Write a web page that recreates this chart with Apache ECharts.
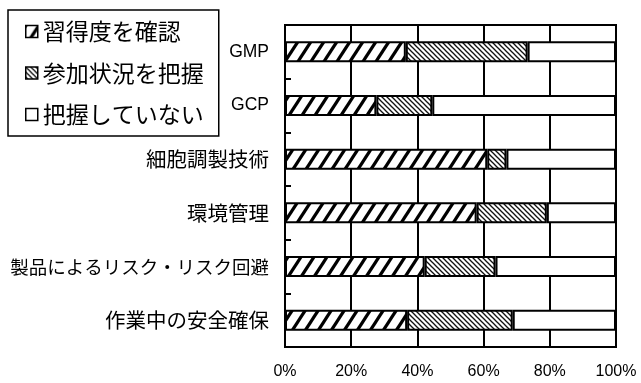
<!DOCTYPE html>
<html>
<head>
<meta charset="utf-8">
<script src="https://cdn.jsdelivr.net/npm/echarts@6/dist/echarts.min.js"></script>
<style>
html,body{margin:0;padding:0;background:#fff;}
#chart{width:641px;height:383px;}
</style>
</head>
<body>
<div id="chart"></div>
<script>
const categories = ['GMP', 'GCP', '細胞調製技術', '環境管理', '製品によるリスク・リスク回避', '作業中の安全確保'];
const seriesNames = ['習得度を確認', '参加状況を把握', '把握していない'];
const confirmed = [36.5, 27.6, 61.1, 57.9, 42.2, 36.9];
const participation = [36.8, 16.9, 5.8, 21.2, 21.4, 31.9];
const notGrasped = [26.7, 55.5, 33.1, 20.9, 36.4, 31.2];
const xTicks = [0, 20, 40, 60, 80, 100];

function makePattern(w, h, dir, lw, color) {
  const c = document.createElement('canvas');
  c.width = w; c.height = h;
  const ctx = c.getContext('2d');
  ctx.fillStyle = '#fff';
  ctx.fillRect(0, 0, w, h);
  ctx.strokeStyle = color;
  ctx.lineWidth = lw;
  ctx.lineCap = 'butt';
  for (let k = -2; k <= 2; k++) {
    ctx.beginPath();
    if (dir === '/') {
      ctx.moveTo(k * w - w, 2 * h);
      ctx.lineTo(k * w + 2 * w, -h);
    } else {
      ctx.moveTo(k * w - w, -h);
      ctx.lineTo(k * w + 2 * w, 2 * h);
    }
    ctx.stroke();
  }
  return c;
}

const pat1 = makePattern(13, 20, '/', 3.2, '#000');
const pat2 = makePattern(5, 5, '\\', 1.3, '#111');

const chart = echarts.init(document.getElementById('chart'), null, {renderer: 'canvas'});

const barBase = {
  type: 'bar',
  stack: 'total',
  barWidth: 21,
  animation: false
};

chart.setOption({
  animation: false,
  backgroundColor: '#fff',
  legend: {
    show: true,
    orient: 'vertical',
    left: 8,
    top: 10,
    padding: [10, 15, 10, 17],
    itemGap: 18.5,
    itemWidth: 12,
    itemHeight: 12,
    icon: 'rect',
    borderColor: '#000',
    borderWidth: 1.5,
    backgroundColor: '#fff',
    textStyle: {
      fontSize: 23,
      color: '#000',
      fontFamily: 'Noto Sans CJK JP'
    },
    itemStyle: {borderColor: '#000', borderWidth: 1.5},
    data: seriesNames
  },
  grid: {
    left: 285,
    right: 25,
    top: 25,
    bottom: 36,
    containLabel: false,
    show: true,
    borderColor: '#000',
    borderWidth: 2,
    backgroundColor: 'transparent'
  },
  xAxis: {
    type: 'value',
    min: 0,
    max: 100,
    interval: 20,
    axisLine: {show: true, lineStyle: {color: '#000', width: 2}},
    axisTick: {show: false},
    splitLine: {show: true, lineStyle: {color: '#000', width: 2}},
    axisLabel: {
      margin: 17,
      fontSize: 16,
      color: '#000',
      fontFamily: 'Liberation Sans',
      formatter: function (v) { return xTicks.indexOf(v) >= 0 ? v + '%' : ''; }
    }
  },
  yAxis: {
    type: 'category',
    inverse: true,
    data: categories,
    axisLine: {show: true, lineStyle: {color: '#000', width: 2}},
    axisTick: {show: true, inside: true, length: 6, lineStyle: {color: '#000', width: 2}},
    splitLine: {show: false},
    axisLabel: {
      margin: 16,
      color: '#000',
      formatter: function (v) {
        if (/^[A-Za-z]+$/.test(v)) return '{en|' + v + '}';
        if (v.length > 10) return '{jl|' + v + '}';
        return '{ja|' + v + '}';
      },
      rich: {
        en: {fontSize: 17.5, fontFamily: 'Liberation Sans', color: '#000'},
        ja: {fontSize: 20.5, fontFamily: 'Noto Sans CJK JP', color: '#000'},
        jl: {fontSize: 18.5, fontFamily: 'Noto Sans CJK JP', color: '#000'}
      }
    }
  },
  series: [
    Object.assign({}, barBase, {
      name: seriesNames[0],
      data: confirmed,
      itemStyle: {color: {image: pat1, repeat: 'repeat'}, borderColor: '#000', borderWidth: 2}
    }),
    Object.assign({}, barBase, {
      name: seriesNames[1],
      data: participation,
      itemStyle: {color: {image: pat2, repeat: 'repeat'}, borderColor: '#000', borderWidth: 2}
    }),
    Object.assign({}, barBase, {
      name: seriesNames[2],
      data: notGrasped,
      itemStyle: {color: '#fff', borderColor: '#000', borderWidth: 2}
    })
  ]
});
</script>
</body>
</html>
